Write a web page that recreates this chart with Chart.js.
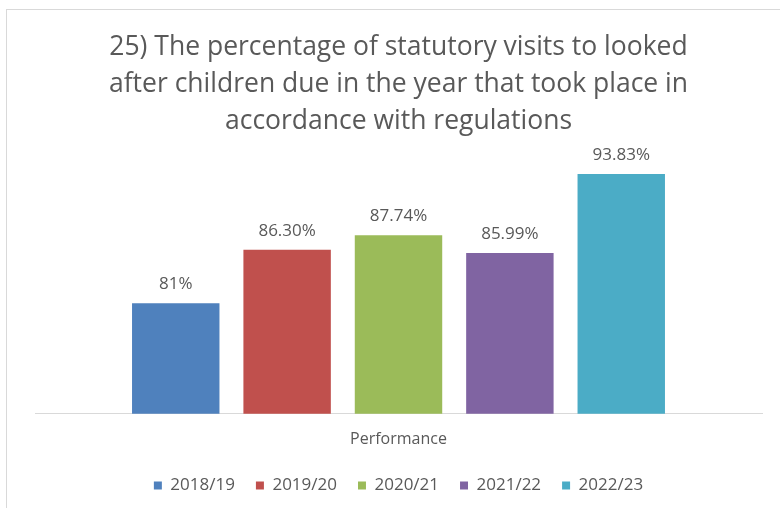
<!DOCTYPE html>
<html>
<head>
<meta charset="utf-8">
<script src="https://cdn.jsdelivr.net/npm/chart.js@4"></script>
<style>
  html, body { margin: 0; padding: 0; background: #fff; }
  .frame { position: absolute; left: 6px; top: 9px; width: 790px; height: 520px;
           border-left: 1px solid #d9d9d9; border-top: 1px solid #d9d9d9; }
  #wrap { position: absolute; left: 0; top: 0; width: 780px; height: 508px; }
</style>
</head>
<body>
<div class="frame"></div>
<div id="wrap"><canvas id="chart"></canvas></div>
<script>
const categories = ['Performance'];
const years = ['2018/19', '2019/20', '2020/21', '2021/22', '2022/23'];
const values = [81, 86.30, 87.74, 85.99, 93.83];
const valueLabels = ['81%', '86.30%', '87.74%', '85.99%', '93.83%'];
const colours = ['#4F81BD', '#C0504D', '#9BBB59', '#8064A2', '#4BACC6'];

const textColour = '#595959';
const fontFamily = "'Open Sans', sans-serif";

// value labels above each bar
const barLabels = {
    id: 'barLabels',
    afterDatasetsDraw(chart) {
        const ctx = chart.ctx;
        ctx.save();
        ctx.font = '17px ' + fontFamily;
        ctx.fillStyle = textColour;
        ctx.textAlign = 'center';
        ctx.textBaseline = 'middle';
        chart.data.datasets.forEach((ds, i) => {
            const bar = chart.getDatasetMeta(i).data[0];
            ctx.fillText(valueLabels[i], bar.x, bar.y - 19);
        });
        ctx.restore();
    }
};

const ctx = document.getElementById('chart').getContext('2d');
const chart = new Chart(ctx, {
    type: 'bar',
    data: {
        labels: categories,
        datasets: years.map((y, i) => ({
            label: y,
            data: [values[i]],
            backgroundColor: colours[i],
            borderWidth: 0
        }))
    },
    options: {
        responsive: true,
        maintainAspectRatio: false,
        animation: false,
        categoryPercentage: 0.766,
        barPercentage: 0.785,
        layout: { padding: { left: 35, right: 18, top: 29, bottom: 4 } },
        plugins: {
            title: {
                display: true,
                text: ['25) The percentage of statutory visits to looked',
                       'after children due in the year that took place in',
                       'accordance with regulations'],
                color: textColour,
                font: { family: fontFamily, size: 26.5, weight: 'normal', lineHeight: 1.4 },
                padding: { top: 0, bottom: 22 }
            },
            legend: {
                position: 'bottom',
                labels: {
                    color: textColour,
                    font: { family: fontFamily, size: 17 },
                    boxWidth: 8,
                    boxHeight: 8,
                    padding: 21
                }
            },
            tooltip: { enabled: false }
        },
        scales: {
            x: {
                grid: { display: false },
                border: { display: true, color: '#d9d9d9' },
                ticks: { display: false },
                title: {
                    display: true,
                    text: 'Performance',
                    color: textColour,
                    font: { family: fontFamily, size: 16 },
                    padding: { top: 8, bottom: 7 }
                }
            },
            y: {
                display: false,
                min: 70,
                max: 95
            }
        }
    },
    plugins: [barLabels]
});
</script>
</body>
</html>
